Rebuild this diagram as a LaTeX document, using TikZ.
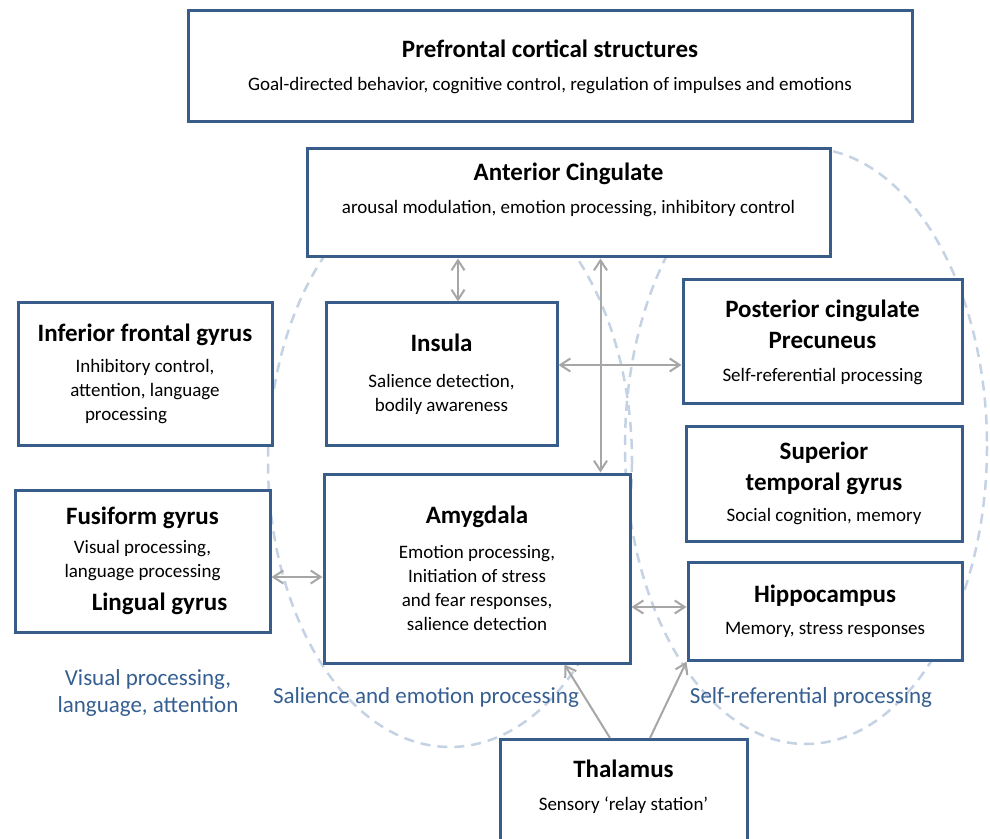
\documentclass[tikz,border=0pt]{standalone}
\usepackage{fontspec}
\setmainfont{Carlito}
\usetikzlibrary{arrows.meta}
\definecolor{boxblue}{RGB}{56,93,138}
\definecolor{ringblue}{RGB}{196,210,227}
\definecolor{textblue}{RGB}{54,95,145}
\definecolor{linkgray}{RGB}{166,166,166}
\newcommand{\ttl}[1]{{\fontsize{12.5}{15}\selectfont\bfseries #1}}
\begin{document}
\begin{tikzpicture}[x=0.5pt, y=-0.5pt,
  box/.style={draw=boxblue, line width=1.5pt, fill=white, align=center, inner sep=0pt, font=\fontsize{9.5}{12}\selectfont},
  ring/.style={draw=ringblue, line width=1.25pt, dash pattern=on 5pt off 3.5pt},
  link/.style={draw=linkgray, line width=1pt, {Straight Barb[length=5pt,width=6.5pt]}-{Straight Barb[length=5pt,width=6.5pt]}},
  tip/.style={draw=linkgray, line width=1pt, -{Straight Barb[length=5pt,width=6.5pt]}},
  group/.style={text=textblue, align=center, font=\fontsize{11.5}{13.5}\selectfont}]
\clip (0,0) rectangle (990,839);
\fill[white] (0,0) rectangle (990,839);
% dashed groupings
\draw[ring] (450,462) ellipse [x radius=182, y radius=285];
\draw[ring] (806,446) ellipse [x radius=181, y radius=298];
% regions
\node[box, minimum width=362pt, minimum height=55.5pt] (pfc) at (550,66.5) {\ttl{Prefrontal cortical structures}\\[4.5pt] Goal-directed behavior, cognitive control, regulation of impulses and emotions};
\node[box, minimum width=261.5pt, minimum height=54pt] (ac) at (568.5,203) {\ttl{Anterior Cingulate}\\[4.5pt] arousal modulation, emotion processing, inhibitory control\\[3pt]\mbox{}};
\node[box, minimum width=127pt, minimum height=71pt] (ifg) at (145,374) {\ttl{Inferior frontal gyrus}\\[3.5pt] Inhibitory control,\hspace*{19pt}\\ attention, language\hspace*{19pt}\\ processing\hspace*{19pt}};
\node[box, minimum width=115.5pt, minimum height=71pt] (ins) at (441.5,374) {\ttl{Insula}\\[6pt] Salience detection,\\ bodily awareness};
\node[box, minimum width=139.5pt, minimum height=62pt] (pcc) at (822.5,342) {\ttl{Posterior cingulate}\\[3.5pt] \ttl{Precuneus}\\[4.5pt] Self-referential processing};
\node[box, minimum width=138pt, minimum height=57.5pt] (stg) at (824,483.5) {\ttl{Superior}\\[3.5pt] \ttl{temporal gyrus}\\[3.5pt] Social cognition, memory};
\node[box, minimum width=127.5pt, minimum height=71pt] (fus) at (142.5,561) {\ttl{Fusiform gyrus}\\[2.5pt] Visual processing,\hspace*{9pt}\\ language processing\hspace*{9pt}\\[4.5pt] \hspace*{17pt}\ttl{Lingual gyrus}};
\node[box, minimum width=153pt, minimum height=94.5pt] (amy) at (477,568.5) {\ttl{Amygdala}\\[5.5pt] Emotion processing,\\ Initiation of stress\\ and fear responses,\\ salience detection};
\node[box, minimum width=137pt, minimum height=49pt] (hip) at (825,611) {\ttl{Hippocampus}\\[4pt] Memory, stress responses};
\node[box, minimum width=123.5pt, anchor=north, inner ysep=10pt, text depth=50pt] (tha) at (623.5,738) {\ttl{Thalamus}\\[4.5pt] Sensory ‘relay station’};
% group labels
\node[group] (vislab) at (148,693) {Visual processing,\\ language, attention};
\node[group] (sallab) at (426,697) {Salience and emotion processing};
\node[group] (selflab) at (811,697) {Self-referential processing};
% connections
\coordinate (insTop) at ([xshift=8.25pt]ins.north);
\draw[link] (insTop) -- (insTop |- ac.south);
\coordinate (amyTop) at ([xshift=-15.5pt]amy.north east);
\draw[link] (amyTop) -- (amyTop |- ac.south);
\coordinate (insRight) at ([yshift=4.5pt]ins.east);
\draw[link] (insRight) -- (insRight -| pcc.west);
\coordinate (fusRight) at ([yshift=-8pt]fus.east);
\draw[link] (fusRight) -- (fusRight -| amy.west);
\coordinate (hipLeft) at ([yshift=2pt]hip.west);
\draw[link] (hipLeft -| amy.east) -- (hipLeft);
\draw[tip] ([xshift=-6.75pt]tha.north) -- ([xshift=-33.5pt]amy.south east);
\draw[tip] ([xshift=13.25pt]tha.north) -- (hip.south west);
\end{tikzpicture}
\end{document}
